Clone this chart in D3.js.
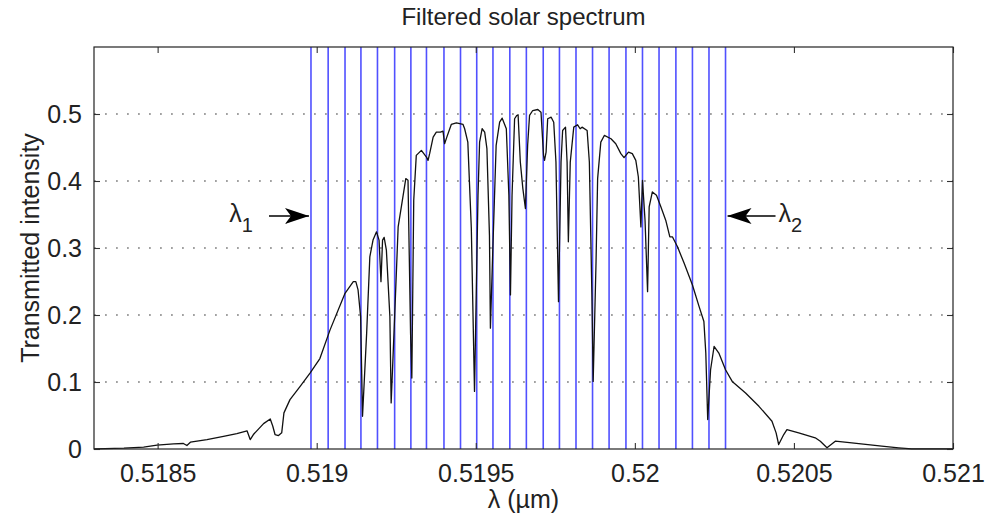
<!DOCTYPE html>
<html>
<head>
<meta charset="utf-8">
<script src="https://cdn.jsdelivr.net/npm/d3@7"></script>
<style>
  body { margin: 0; background: #fff; }
  svg { display: block; }
  text { font-family: "Liberation Sans", Arial, Helvetica, sans-serif; fill: #222; }
</style>
</head>
<body>
<svg id="chart" width="998" height="519"></svg>
<script>
// Transmitted solar spectrum through the filter (wavelength in µm)
const wavelength = [
  0.518300, 0.518305, 0.518394, 0.518456, 0.518498, 0.518550, 0.518581, 0.518592, 0.518603,
  0.518655, 0.518707, 0.518749, 0.518781, 0.518791, 0.518801, 0.518833, 0.518854, 0.518862,
  0.518869, 0.518880, 0.518890, 0.518897, 0.518916, 0.518948, 0.518979, 0.519010, 0.519042,
  0.519089, 0.519115, 0.519123, 0.519130, 0.519138, 0.519144, 0.519157, 0.519167, 0.519177,
  0.519188, 0.519196, 0.519202, 0.519207, 0.519212, 0.519219, 0.519230, 0.519234, 0.519245,
  0.519256, 0.519266, 0.519280, 0.519287, 0.519295, 0.519299, 0.519305, 0.519313, 0.519329,
  0.519345, 0.519350, 0.519355, 0.519366, 0.519376, 0.519389, 0.519397, 0.519402, 0.519409,
  0.519423, 0.519439, 0.519460, 0.519465, 0.519475, 0.519486, 0.519496, 0.519507, 0.519512,
  0.519520, 0.519528, 0.519535, 0.519543, 0.519546, 0.519554, 0.519564, 0.519575, 0.519583,
  0.519596, 0.519604, 0.519609, 0.519614, 0.519622, 0.519629, 0.519633, 0.519640, 0.519648,
  0.519656, 0.519663, 0.519669, 0.519679, 0.519695, 0.519705, 0.519713, 0.519716, 0.519721,
  0.519726, 0.519737, 0.519745, 0.519752, 0.519760, 0.519768, 0.519773, 0.519782, 0.519787,
  0.519791, 0.519797, 0.519808, 0.519820, 0.519828, 0.519834, 0.519850, 0.519857, 0.519865,
  0.519869, 0.519878, 0.519883, 0.519893, 0.519904, 0.519925, 0.519940, 0.519956, 0.519966,
  0.519980, 0.519992, 0.520003, 0.520011, 0.520019, 0.520024, 0.520032, 0.520040, 0.520045,
  0.520055, 0.520068, 0.520082, 0.520097, 0.520110, 0.520118, 0.520134, 0.520155, 0.520181,
  0.520202, 0.520217, 0.520223, 0.520229, 0.520238, 0.520249, 0.520264, 0.520285, 0.520306,
  0.520348, 0.520390, 0.520431, 0.520444, 0.520452, 0.520468, 0.520478, 0.520515, 0.520567,
  0.520583, 0.520604, 0.520630, 0.520682, 0.520776, 0.520829, 0.520870, 0.521000
];
const intensity = [
  0.0002, 0.0003, 0.0012, 0.0027, 0.0057, 0.0077, 0.0082, 0.0052, 0.0101,
  0.0141, 0.0190, 0.0231, 0.0271, 0.0141, 0.0216, 0.0379, 0.0449, 0.0339,
  0.0216, 0.0201, 0.0241, 0.0539, 0.0737, 0.0935, 0.1134, 0.1350, 0.1778,
  0.2324, 0.2497, 0.2497, 0.2374, 0.1976, 0.0488, 0.1729, 0.2869, 0.3118,
  0.3241, 0.3118, 0.2497, 0.3118, 0.3158, 0.2969, 0.1976, 0.0688, 0.1976,
  0.3315, 0.3613, 0.4036, 0.4010, 0.1729, 0.1060, 0.3713, 0.4382, 0.4457,
  0.4357, 0.4308, 0.4408, 0.4655, 0.4729, 0.4729, 0.4744, 0.4557, 0.4655,
  0.4844, 0.4869, 0.4844, 0.4780, 0.4580, 0.3292, 0.0860, 0.3787, 0.4580,
  0.4780, 0.4729, 0.4482, 0.3192, 0.1804, 0.3043, 0.4531, 0.4878, 0.4938,
  0.4780, 0.3787, 0.2299, 0.3787, 0.4929, 0.4978, 0.4988, 0.4283, 0.3887,
  0.3589, 0.4531, 0.4978, 0.5052, 0.5067, 0.5027, 0.4382, 0.4308, 0.4432,
  0.4929, 0.4952, 0.4878, 0.4283, 0.2199, 0.4283, 0.4754, 0.4804, 0.4283,
  0.3092, 0.4283, 0.4804, 0.4839, 0.4780, 0.4804, 0.4754, 0.4283, 0.2299,
  0.1009, 0.2795, 0.4036, 0.4580, 0.4680, 0.4631, 0.4557, 0.4408, 0.4348,
  0.4432, 0.4408, 0.4308, 0.4060, 0.3315, 0.4010, 0.3415, 0.2348, 0.3613,
  0.3836, 0.3787, 0.3613, 0.3415, 0.3167, 0.3167, 0.3018, 0.2771, 0.2448,
  0.2125, 0.1902, 0.1432, 0.0439, 0.1183, 0.1530, 0.1432, 0.1183, 0.1009,
  0.0836, 0.0637, 0.0414, 0.0241, 0.0067, 0.0216, 0.0290, 0.0241, 0.0167,
  0.0116, 0.0018, 0.0116, 0.0092, 0.0042, 0.0018, 0.0003, 0.0003
];

// Filter channel centre wavelengths (µm), from λ1 to λ2
const filterLines = [
  0.518982, 0.519036, 0.519089, 0.519139, 0.519191, 0.519245, 0.519296, 0.519345,
  0.519400, 0.519452, 0.519503, 0.519554, 0.519607, 0.519659, 0.519712, 0.519763,
  0.519815, 0.519867, 0.519919, 0.519972, 0.520024, 0.520076, 0.520129, 0.520181,
  0.520233, 0.520285
];

const xTicks = [0.5185, 0.519, 0.5195, 0.52, 0.5205, 0.521];
const xTickLabels = ["0.5185", "0.519", "0.5195", "0.52", "0.5205", "0.521"];
const yTicks = [0, 0.1, 0.2, 0.3, 0.4, 0.5];
const yTickLabels = ["0", "0.1", "0.2", "0.3", "0.4", "0.5"];
const gridValues = [0.1, 0.2, 0.3, 0.4, 0.5];

const xDomain = [0.5183, 0.521];
const yDomain = [0, 0.6];

const margin = { left: 94, right: 45, top: 47, bottom: 70 };
const W = 998, H = 519;
const svg = d3.select("#chart");

const x = d3.scaleLinear().domain(xDomain).range([margin.left, W - margin.right]);
const y = d3.scaleLinear().domain(yDomain).range([H - margin.bottom, margin.top]);

const x0 = x.range()[0], x1 = x.range()[1];
const yBot = y.range()[0], yTop = y.range()[1];

const tickFont = "25px";

// Dotted horizontal grid
svg.append("g").selectAll("line").data(gridValues).join("line")
  .attr("x1", x0).attr("x2", x1)
  .attr("y1", d => y(d)).attr("y2", d => y(d))
  .attr("stroke", "#444").attr("stroke-width", 1.2)
  .attr("stroke-dasharray", "1.8,9.2");

// Filter channel lines
svg.append("g").selectAll("line").data(filterLines).join("line")
  .attr("x1", d => x(d)).attr("x2", d => x(d))
  .attr("y1", yTop).attr("y2", yBot)
  .attr("stroke", "#5050ff").attr("stroke-width", 1.6);

// Spectrum curve
const pts = wavelength.map((w, i) => [w, intensity[i]]);
svg.append("path")
  .datum(pts)
  .attr("fill", "none")
  .attr("stroke", "#111")
  .attr("stroke-width", 1.3)
  .attr("stroke-linejoin", "round")
  .attr("d", d3.line().x(d => x(d[0])).y(d => y(d[1])));

// Axes with inward ticks on all four sides
function styleAxis(g) {
  g.select(".domain").remove();
  g.selectAll(".tick line").attr("stroke", "#333").attr("stroke-width", 1.1);
  g.selectAll("text").style("font-size", tickFont).attr("fill", "#222");
}

svg.append("g").attr("transform", `translate(0,${yBot})`)
  .call(d3.axisBottom(x).tickValues(xTicks).tickSize(-6).tickPadding(15)
    .tickFormat((d, i) => xTickLabels[i]))
  .call(styleAxis);

svg.append("g").attr("transform", `translate(0,${yTop})`)
  .call(d3.axisTop(x).tickValues(xTicks).tickSize(-6).tickFormat(""))
  .call(styleAxis);

svg.append("g").attr("transform", `translate(${x0},0)`)
  .call(d3.axisLeft(y).tickValues(yTicks).tickSize(-6).tickPadding(12)
    .tickFormat((d, i) => yTickLabels[i]))
  .call(styleAxis);

svg.append("g").attr("transform", `translate(${x1},0)`)
  .call(d3.axisRight(y).tickValues(yTicks).tickSize(-6).tickFormat(""))
  .call(styleAxis);

// Plot frame
svg.append("rect")
  .attr("x", x0).attr("y", yTop)
  .attr("width", x1 - x0).attr("height", yBot - yTop)
  .attr("fill", "none").attr("stroke", "#222").attr("stroke-width", 1.2);

// Title and axis labels
svg.append("text")
  .attr("x", (x0 + x1) / 2).attr("y", 25)
  .attr("text-anchor", "middle")
  .style("font-size", "24px")
  .text("Filtered solar spectrum");

svg.append("text")
  .attr("transform", `translate(39,${(yTop + yBot) / 2}) rotate(-90)`)
  .attr("text-anchor", "middle")
  .style("font-size", "25px")
  .text("Transmitted intensity");

svg.append("text")
  .attr("x", (x0 + x1) / 2).attr("y", 508)
  .attr("text-anchor", "middle")
  .style("font-size", "25px")
  .text("λ (µm)");

// λ1 / λ2 markers with arrows
svg.append("defs").append("marker")
  .attr("id", "head").attr("viewBox", "0 0 24 16")
  .attr("refX", 24).attr("refY", 8)
  .attr("markerWidth", 24).attr("markerHeight", 16)
  .attr("markerUnits", "userSpaceOnUse")
  .attr("orient", "auto")
  .append("path").attr("d", "M0,0 L24,8 L0,16 L6,8 Z").attr("fill", "#000");

const firstLine = filterLines[0], lastLine = filterLines[filterLines.length - 1];
const arrowY = 216;

svg.append("line")
  .attr("x1", x(firstLine) - 42).attr("x2", x(firstLine) - 2)
  .attr("y1", arrowY).attr("y2", arrowY)
  .attr("stroke", "#000").attr("stroke-width", 1.4)
  .attr("marker-end", "url(#head)");

svg.append("line")
  .attr("x1", x(lastLine) + 50).attr("x2", x(lastLine) + 2)
  .attr("y1", arrowY).attr("y2", arrowY)
  .attr("stroke", "#000").attr("stroke-width", 1.4)
  .attr("marker-end", "url(#head)");

const lab1 = svg.append("text")
  .attr("x", x(firstLine) - 58).attr("y", arrowY + 6)
  .attr("text-anchor", "end")
  .style("font-size", "25px");
lab1.append("tspan").text("λ");
lab1.append("tspan").attr("dy", 10).style("font-size", "20px").text("1");

const lab2 = svg.append("text")
  .attr("x", x(lastLine) + 53).attr("y", arrowY + 6)
  .attr("text-anchor", "start")
  .style("font-size", "25px");
lab2.append("tspan").text("λ");
lab2.append("tspan").attr("dy", 10).style("font-size", "20px").text("2");
</script>
</body>
</html>
